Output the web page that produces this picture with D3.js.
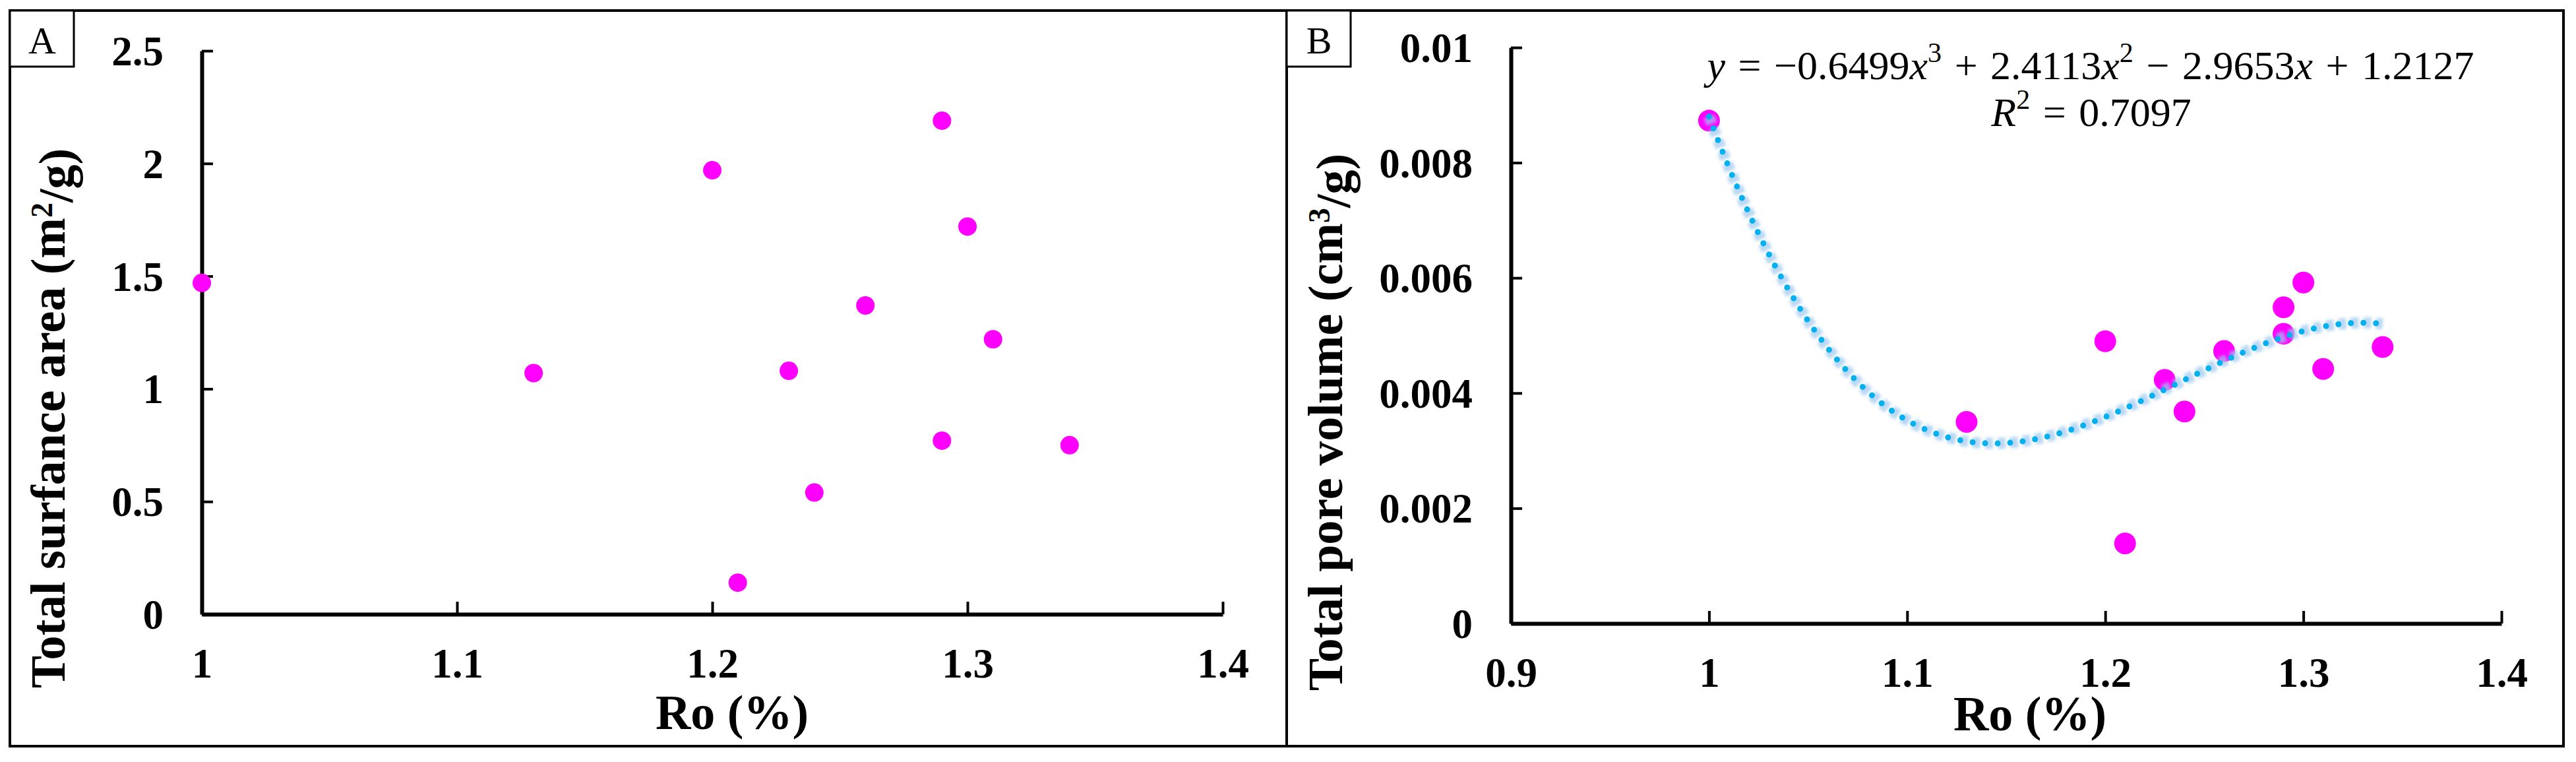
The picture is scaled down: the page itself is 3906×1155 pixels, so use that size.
<!DOCTYPE html>
<html>
<head>
<meta charset="utf-8">
<script src="https://cdn.jsdelivr.net/npm/d3@7"></script>
<style>
  html, body { margin: 0; padding: 0; background: #fff; }
  svg { display: block; }
  text { font-family: "Liberation Serif", "Times New Roman", serif; }
</style>
</head>
<body>
<svg id="chart" width="3906" height="1155"></svg>
<script>
// ---- data ----
const roA = [1, 1.13, 1.2, 1.21, 1.23, 1.24, 1.26, 1.29, 1.29, 1.3, 1.31, 1.34];
const surfaceArea = [1.47, 1.07, 1.97, 0.14, 1.08, 0.54, 1.37, 2.19, 0.77, 1.72, 1.22, 0.75];
const roB = [1, 1.13, 1.2, 1.21, 1.23, 1.24, 1.26, 1.29, 1.29, 1.3, 1.31, 1.34];
const poreVolume = [0.00873, 0.0035, 0.0049, 0.00139, 0.00423, 0.00368, 0.00473, 0.00549, 0.00503, 0.00592, 0.00442, 0.0048];

// cubic trendline shown in panel B (coefficients from x^3 down to constant)
const fitCoef = [-0.6499, 2.4113, -2.9653, 1.2127];
const fitR2 = '0.7097';

const xTicksA = [1, 1.1, 1.2, 1.3, 1.4];
const yTicksA = [0, 0.5, 1, 1.5, 2, 2.5];
const xTicksB = [0.9, 1, 1.1, 1.2, 1.3, 1.4];
const yTicksB = [0, 0.002, 0.004, 0.006, 0.008, 0.01];

const svg = d3.select('#chart');
svg.append('rect').attr('width', 3906).attr('height', 1155).attr('fill', '#fff');

const magenta = '#FF00FF';
const tickFont = 63;
const titleFont = 74;

// glow for the trendline
const defs = svg.append('defs');
defs.append('filter').attr('id', 'glow')
    .attr('x', '-5%').attr('y', '-5%').attr('width', '110%').attr('height', '110%')
  .append('feGaussianBlur').attr('stdDeviation', 2);

function panel(opts) {
    const g = svg.append('g');

    // outer frame
    g.append('rect')
        .attr('x', opts.frame[0]).attr('y', opts.frame[1])
        .attr('width', opts.frame[2] - opts.frame[0])
        .attr('height', opts.frame[3] - opts.frame[1])
        .attr('fill', 'none').attr('stroke', '#000').attr('stroke-width', 4);

    // letter box
    g.append('rect')
        .attr('x', opts.frame[0]).attr('y', opts.frame[1])
        .attr('width', 97).attr('height', 85)
        .attr('fill', '#fff').attr('stroke', '#000').attr('stroke-width', 3);
    g.append('text')
        .attr('x', opts.frame[0] + 49).attr('y', opts.frame[1] + 65)
        .attr('text-anchor', 'middle')
        .attr('font-size', 58)
        .text(opts.letter);

    const x = opts.x, y = opts.y;

    const xAxis = g.append('g')
        .attr('transform', `translate(0,${y.range()[0]})`)
        .call(d3.axisBottom(x).tickValues(opts.xTicks).tickFormat(d => String(d))
            .tickSizeInner(-19).tickSizeOuter(0).tickPadding(51));
    const yAxis = g.append('g')
        .attr('transform', `translate(${x.range()[0]},0)`)
        .call(d3.axisLeft(y).tickValues(opts.yTicks).tickFormat(d => String(d))
            .tickSizeInner(-17).tickSizeOuter(0).tickPadding(58));

    [xAxis, yAxis].forEach(a => {
        a.select('.domain').attr('stroke', '#000').attr('stroke-width', 6);
        a.selectAll('.tick line').attr('stroke', '#000').attr('stroke-width', 4);
        a.selectAll('.tick text')
            .attr('fill', '#000')
            .attr('font-family', '"Liberation Serif", "Times New Roman", serif')
            .attr('font-weight', 'bold')
            .attr('font-size', tickFont);
    });
    yAxis.selectAll('.tick text').attr('dy', '0.34em');

    // axis titles
    g.append('text')
        .attr('x', opts.xTitlePos[0]).attr('y', opts.xTitlePos[1])
        .attr('text-anchor', 'middle')
        .attr('font-weight', 'bold').attr('font-size', titleFont)
        .text('Ro (%)');

    const yt = g.append('text')
        .attr('transform', `translate(${opts.yTitlePos[0]},${opts.yTitlePos[1]}) rotate(-90)`)
        .attr('text-anchor', 'middle')
        .attr('font-weight', 'bold').attr('font-size', titleFont);
    yt.append('tspan').text(opts.yTitle[0]);
    yt.append('tspan').attr('dy', '-0.42em').attr('font-size', titleFont * 0.62).text(opts.yTitle[1]);
    yt.append('tspan').attr('dy', '0.42em').text(opts.yTitle[2]);

    return g;
}

// ---- panel A ----
const xA = d3.scaleLinear().domain([1, 1.4]).range([306, 1854]);
const yA = d3.scaleLinear().domain([0, 2.5]).range([931, 77]);

const gA = panel({
    frame: [15, 16, 1951, 1131], letter: 'A', x: xA, y: yA,
    xTicks: xTicksA, yTicks: yTicksA,
    xTitlePos: [1110, 1105], yTitlePos: [98, 634],
    yTitle: ['Total surfance area (m', '2', '/g)']
});

gA.append('g').selectAll('circle')
    .data(roA.map((r, i) => ({ r: r, v: surfaceArea[i] })))
    .join('circle')
        .attr('cx', d => xA(d.r))
        .attr('cy', d => yA(d.v))
        .attr('r', 14)
        .attr('fill', magenta);

// ---- panel B ----
const xB = d3.scaleLinear().domain([0.9, 1.4]).range([2291, 3793]);
const yB = d3.scaleLinear().domain([0, 0.01]).range([945, 72]);

const gB = panel({
    frame: [1951, 16, 3887, 1131], letter: 'B', x: xB, y: yB,
    xTicks: xTicksB, yTicks: yTicksB,
    xTitlePos: [3078, 1107], yTitlePos: [2035, 640],
    yTitle: ['Total pore volume (cm', '3', '/g)']
});

gB.append('g').selectAll('circle')
    .data(roB.map((r, i) => ({ r: r, v: poreVolume[i] })))
    .join('circle')
        .attr('cx', d => xB(d.r))
        .attr('cy', d => yB(d.v))
        .attr('r', 16.5)
        .attr('fill', magenta);

// trendline over the data range, evaluated from the fitted polynomial
const poly = t => fitCoef.reduce((acc, c) => acc * t + c, 0);
const fitX = d3.range(d3.min(roB), d3.max(roB) + 1e-9, 0.002);
const line = d3.line().x(t => xB(t)).y(t => yB(poly(t))).curve(d3.curveBasis);

gB.append('path')
    .attr('d', line(fitX))
    .attr('fill', 'none')
    .attr('stroke', '#9DC8F0')
    .attr('stroke-opacity', 0.7)
    .attr('stroke-width', 17)
    .attr('stroke-dasharray', '12 7')
    .attr('filter', 'url(#glow)');
gB.append('path')
    .attr('d', line(fitX))
    .attr('fill', 'none')
    .attr('stroke', '#00B0F0')
    .attr('stroke-width', 9)
    .attr('stroke-linecap', 'round')
    .attr('stroke-dasharray', '0 19');

// equation
const fmt = c => Math.abs(c).toFixed(4);
const sign = c => c < 0 ? ' − ' : ' + ';
const eqParts = [
    { t: 'y', i: true }, { t: ' = ' + (fitCoef[0] < 0 ? '−' : '') + fmt(fitCoef[0]) },
    { t: 'x', i: true }, { t: '3', sup: true },
    { t: sign(fitCoef[1]) + fmt(fitCoef[1]) }, { t: 'x', i: true }, { t: '2', sup: true },
    { t: sign(fitCoef[2]) + fmt(fitCoef[2]) }, { t: 'x', i: true },
    { t: sign(fitCoef[3]) + fmt(fitCoef[3]) }
];
const r2Parts = [{ t: 'R', i: true }, { t: '2', sup: true }, { t: ' = ' + fitR2 }];

function richText(parts, cx, cy, size) {
    const t = gB.append('text')
        .attr('x', cx).attr('y', cy)
        .attr('text-anchor', 'middle')
        .attr('font-size', size)
        .attr('word-spacing', 4)
        .style('white-space', 'pre');
    let up = false;
    parts.forEach(p => {
        const s = t.append('tspan').text(p.t);
        if (p.i) s.attr('font-style', 'italic');
        if (p.sup) {
            s.attr('font-size', size * 0.68).attr('dy', -size * 0.42);
            up = true;
        } else if (up) {
            s.attr('dy', size * 0.42);
            up = false;
        }
    });
    return t;
}
richText(eqParts, 3170, 120, 62);
richText(r2Parts, 3171, 191, 62);
</script>
</body>
</html>
